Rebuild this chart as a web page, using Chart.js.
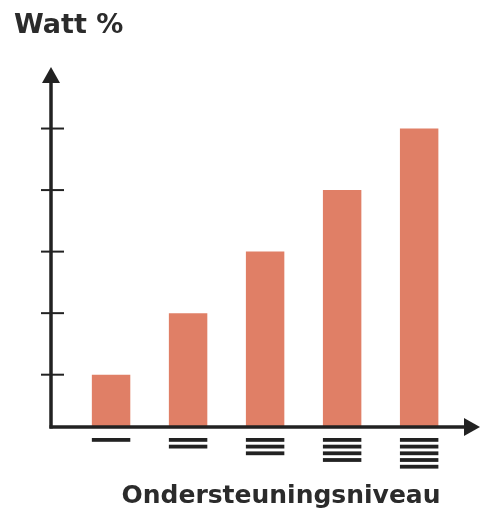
<!DOCTYPE html>
<html>
<head>
<meta charset="utf-8">
<script src="https://cdn.jsdelivr.net/npm/chart.js@4"></script>
<style>
  html, body { margin: 0; padding: 0; background: #fff; }
  #wrap { position: relative; width: 503px; height: 508px; }
</style>
</head>
<body>
<div id="wrap"><canvas id="chart" width="503" height="508"></canvas></div>
<script>
// support levels (number of stripes under each bar)
const levels = [1, 2, 3, 4, 5];
// relative watt value per level
const wattValues = [1, 2, 3, 4, 5];
const yTicks = [1, 2, 3, 4, 5];

const yTitle = "Watt %";
const xTitle = "Ondersteuningsniveau";
const barColor = "#e07f66";
const axisColor = "#222";

// axes with arrows, ticks crossing the y axis, stripe labels
const axesPlugin = {
  id: "axesPlugin",
  afterDraw(chart) {
    const ctx = chart.ctx;
    const a = chart.chartArea;
    const xs = chart.scales.x;
    const ys = chart.scales.y;
    ctx.save();
    ctx.strokeStyle = axisColor;
    ctx.fillStyle = axisColor;
    ctx.lineWidth = 3.5;
    ctx.lineCap = "butt";

    // y axis
    ctx.beginPath();
    ctx.moveTo(a.left, a.bottom + 1.5);
    ctx.lineTo(a.left, a.top + 12);
    ctx.stroke();
    ctx.beginPath();
    ctx.moveTo(a.left, a.top);
    ctx.lineTo(a.left - 9, a.top + 16);
    ctx.lineTo(a.left + 9, a.top + 16);
    ctx.closePath();
    ctx.fill();

    // x axis
    ctx.beginPath();
    ctx.moveTo(a.left - 1.5, a.bottom);
    ctx.lineTo(a.right - 12, a.bottom);
    ctx.stroke();
    ctx.beginPath();
    ctx.moveTo(a.right, a.bottom);
    ctx.lineTo(a.right - 16, a.bottom - 9);
    ctx.lineTo(a.right - 16, a.bottom + 9);
    ctx.closePath();
    ctx.fill();

    // y ticks
    ctx.lineWidth = 2;
    yTicks.forEach(v => {
      const y = ys.getPixelForValue(v);
      ctx.beginPath();
      ctx.moveTo(a.left - 10, y);
      ctx.lineTo(a.left + 13, y);
      ctx.stroke();
    });

    // stripe labels
    const meta = chart.getDatasetMeta(0);
    levels.forEach((n, i) => {
      const bar = meta.data[i];
      const w = bar.width;
      const cx = xs.getPixelForValue(n);
      for (let k = 0; k < n; k++) {
        ctx.fillRect(cx - w / 2, a.bottom + 11 + k * 6.7, w, 3.8);
      }
    });

    // titles
    ctx.fillStyle = "#2b2b2b";
    ctx.textBaseline = "alphabetic";
    ctx.textAlign = "left";
    ctx.font = "bold 27px 'DejaVu Sans'";
    ctx.fillText(yTitle, 14, 33);
    ctx.textAlign = "center";
    ctx.font = "bold 25px 'DejaVu Sans'";
    ctx.fillText(xTitle, 281, 503);
    ctx.restore();
  }
};

new Chart(document.getElementById("chart"), {
  type: "bar",
  data: {
    datasets: [
      {
        label: "Watt",
        data: levels.map((l, i) => ({ x: l, y: wattValues[i] })),
        backgroundColor: barColor,
        borderWidth: 0,
        barPercentage: 0.64,
        categoryPercentage: 1,
        base: 0,
      },
    ],
  },
  options: {
    responsive: false,
    animation: false,
    layout: { padding: { left: 51, right: 23, top: 67, bottom: 81 } },
    plugins: { legend: { display: false }, tooltip: { enabled: false } },
    scales: {
      x: { type: "linear", min: 0.22, max: 5.79, offset: false, display: false },
      y: { min: 0.15, max: 6, display: false },
    },
  },
  plugins: [axesPlugin],
});
</script>
</body>
</html>
